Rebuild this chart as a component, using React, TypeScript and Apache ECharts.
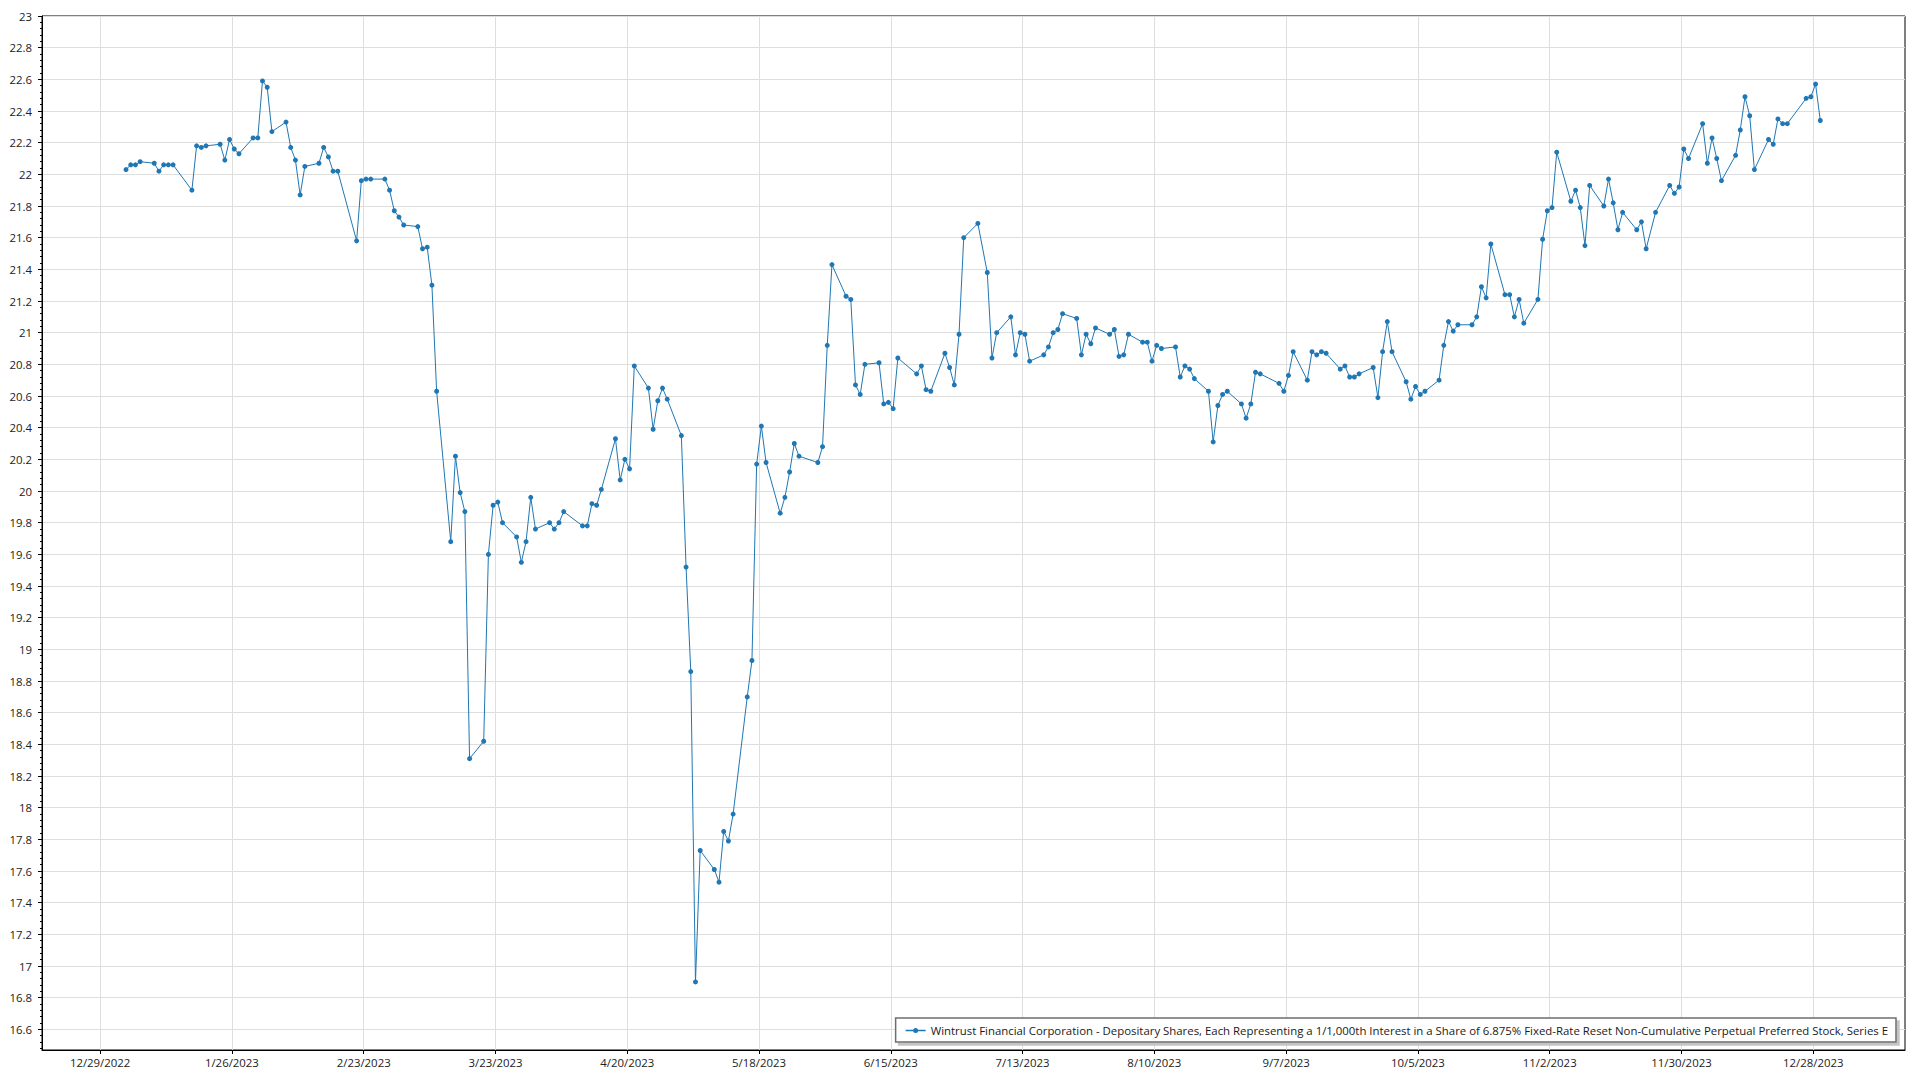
import React, { useEffect, useRef } from "react";
import * as echarts from "echarts";

const SERIES_NAME =
  "Wintrust Financial Corporation - Depositary Shares, Each Representing a 1/1,000th Interest in a Share of 6.875% Fixed-Rate Reset Non-Cumulative Perpetual Preferred Stock, Series E";

const tradeDates = [
  "2023-01-03","2023-01-04","2023-01-05","2023-01-06","2023-01-09","2023-01-10","2023-01-11","2023-01-12","2023-01-13",
  "2023-01-17","2023-01-18","2023-01-19","2023-01-20","2023-01-23","2023-01-24","2023-01-25","2023-01-26","2023-01-27",
  "2023-01-30","2023-01-31","2023-02-01","2023-02-02","2023-02-03","2023-02-06","2023-02-07","2023-02-08","2023-02-09",
  "2023-02-10","2023-02-13","2023-02-14","2023-02-15","2023-02-16","2023-02-17","2023-02-21","2023-02-22","2023-02-23",
  "2023-02-24","2023-02-27","2023-02-28","2023-03-01","2023-03-02","2023-03-03","2023-03-06","2023-03-07","2023-03-08",
  "2023-03-09","2023-03-10","2023-03-13","2023-03-14","2023-03-15","2023-03-16","2023-03-17","2023-03-20","2023-03-21",
  "2023-03-22","2023-03-23","2023-03-24","2023-03-27","2023-03-28","2023-03-29","2023-03-30","2023-03-31","2023-04-03",
  "2023-04-04","2023-04-05","2023-04-06","2023-04-10","2023-04-11","2023-04-12","2023-04-13","2023-04-14","2023-04-17",
  "2023-04-18","2023-04-19","2023-04-20","2023-04-21","2023-04-24","2023-04-25","2023-04-26","2023-04-27","2023-04-28",
  "2023-05-01","2023-05-02","2023-05-03","2023-05-04","2023-05-05","2023-05-08","2023-05-09","2023-05-10","2023-05-11",
  "2023-05-12","2023-05-15","2023-05-16","2023-05-17","2023-05-18","2023-05-19","2023-05-22","2023-05-23","2023-05-24",
  "2023-05-25","2023-05-26","2023-05-30","2023-05-31","2023-06-01","2023-06-02","2023-06-05","2023-06-06","2023-06-07",
  "2023-06-08","2023-06-09","2023-06-12","2023-06-13","2023-06-14","2023-06-15","2023-06-16","2023-06-20","2023-06-21",
  "2023-06-22","2023-06-23","2023-06-26","2023-06-27","2023-06-28","2023-06-29","2023-06-30","2023-07-03","2023-07-05",
  "2023-07-06","2023-07-07","2023-07-10","2023-07-11","2023-07-12","2023-07-13","2023-07-14","2023-07-17","2023-07-18",
  "2023-07-19","2023-07-20","2023-07-21","2023-07-24","2023-07-25","2023-07-26","2023-07-27","2023-07-28","2023-07-31",
  "2023-08-01","2023-08-02","2023-08-03","2023-08-04","2023-08-07","2023-08-08","2023-08-09","2023-08-10","2023-08-11",
  "2023-08-14","2023-08-15","2023-08-16","2023-08-17","2023-08-18","2023-08-21","2023-08-22","2023-08-23","2023-08-24",
  "2023-08-25","2023-08-28","2023-08-29","2023-08-30","2023-08-31","2023-09-01","2023-09-05","2023-09-06","2023-09-07",
  "2023-09-08","2023-09-11","2023-09-12","2023-09-13","2023-09-14","2023-09-15","2023-09-18","2023-09-19","2023-09-20",
  "2023-09-21","2023-09-22","2023-09-25","2023-09-26","2023-09-27","2023-09-28","2023-09-29","2023-10-02","2023-10-03",
  "2023-10-04","2023-10-05","2023-10-06","2023-10-09","2023-10-10","2023-10-11","2023-10-12","2023-10-13","2023-10-16",
  "2023-10-17","2023-10-18","2023-10-19","2023-10-20","2023-10-23","2023-10-24","2023-10-25","2023-10-26","2023-10-27",
  "2023-10-30","2023-10-31","2023-11-01","2023-11-02","2023-11-03","2023-11-06","2023-11-07","2023-11-08","2023-11-09",
  "2023-11-10","2023-11-13","2023-11-14","2023-11-15","2023-11-16","2023-11-17","2023-11-20","2023-11-21","2023-11-22",
  "2023-11-24","2023-11-27","2023-11-28","2023-11-29","2023-11-30","2023-12-01","2023-12-04","2023-12-05","2023-12-06",
  "2023-12-07","2023-12-08","2023-12-11","2023-12-12","2023-12-13","2023-12-14","2023-12-15","2023-12-18","2023-12-19",
  "2023-12-20","2023-12-21","2023-12-22","2023-12-26","2023-12-27","2023-12-28","2023-12-29",
];

const closePrices = [
  22.03, 22.06, 22.06, 22.08, 22.07, 22.02, 22.06, 22.06, 22.06,
  21.90, 22.18, 22.17, 22.18, 22.19, 22.09, 22.22, 22.16, 22.13,
  22.23, 22.23, 22.59, 22.55, 22.27, 22.33, 22.17, 22.09, 21.87,
  22.05, 22.07, 22.17, 22.11, 22.02, 22.02, 21.58, 21.96, 21.97,
  21.97, 21.97, 21.90, 21.77, 21.73, 21.68, 21.67, 21.53, 21.54,
  21.30, 20.63, 19.68, 20.22, 19.99, 19.87, 18.31, 18.42, 19.60,
  19.91, 19.93, 19.80, 19.71, 19.55, 19.68, 19.96, 19.76, 19.80,
  19.76, 19.80, 19.87, 19.78, 19.78, 19.92, 19.91, 20.01, 20.33,
  20.07, 20.20, 20.14, 20.79, 20.65, 20.39, 20.57, 20.65, 20.58,
  20.35, 19.52, 18.86, 16.90, 17.73, 17.61, 17.53, 17.85, 17.79,
  17.96, 18.70, 18.93, 20.17, 20.41, 20.18, 19.86, 19.96, 20.12,
  20.30, 20.22, 20.18, 20.28, 20.92, 21.43, 21.23, 21.21, 20.67,
  20.61, 20.80, 20.81, 20.55, 20.56, 20.52, 20.84, 20.74, 20.79,
  20.64, 20.63, 20.87, 20.78, 20.67, 20.99, 21.60, 21.69, 21.38,
  20.84, 21.00, 21.10, 20.86, 21.00, 20.99, 20.82, 20.86, 20.91,
  21.00, 21.02, 21.12, 21.09, 20.86, 20.99, 20.93, 21.03, 20.99,
  21.02, 20.85, 20.86, 20.99, 20.94, 20.94, 20.82, 20.92, 20.90,
  20.91, 20.72, 20.79, 20.77, 20.71, 20.63, 20.31, 20.54, 20.61,
  20.63, 20.55, 20.46, 20.55, 20.75, 20.74, 20.68, 20.63, 20.73,
  20.88, 20.70, 20.88, 20.86, 20.88, 20.87, 20.77, 20.79, 20.72,
  20.72, 20.74, 20.78, 20.59, 20.88, 21.07, 20.88, 20.69, 20.58,
  20.66, 20.61, 20.63, 20.70, 20.92, 21.07, 21.01, 21.05, 21.05,
  21.10, 21.29, 21.22, 21.56, 21.24, 21.24, 21.10, 21.21, 21.06,
  21.21, 21.59, 21.77, 21.79, 22.14, 21.83, 21.90, 21.79, 21.55,
  21.93, 21.80, 21.97, 21.82, 21.65, 21.76, 21.65, 21.70, 21.53,
  21.76, 21.93, 21.88, 21.92, 22.16, 22.10, 22.32, 22.07, 22.23,
  22.10, 21.96, 22.12, 22.28, 22.49, 22.37, 22.03, 22.22, 22.19,
  22.35, 22.32, 22.32, 22.48, 22.49, 22.57, 22.34,
];

const xTickDates = [
  "2022-12-29","2023-01-26","2023-02-23","2023-03-23","2023-04-20","2023-05-18","2023-06-15",
  "2023-07-13","2023-08-10","2023-09-07","2023-10-05","2023-11-02","2023-11-30","2023-12-28",
];

const yTickValues = [
  16.6, 16.8, 17, 17.2, 17.4, 17.6, 17.8, 18, 18.2, 18.4, 18.6, 18.8, 19, 19.2, 19.4, 19.6, 19.8,
  20, 20.2, 20.4, 20.6, 20.8, 21, 21.2, 21.4, 21.6, 21.8, 22, 22.2, 22.4, 22.6, 22.8, 23,
];

const Y_MIN = 16.47;
const Y_MAX = 23;
const DAY = 86400000;

function toMs(s: string): number {
  const [y, m, d] = s.split("-").map(Number);
  return Date.UTC(y, m - 1, d);
}

function fmtDate(v: number): string {
  const dt = new Date(v);
  return `${dt.getUTCMonth() + 1}/${dt.getUTCDate()}/${dt.getUTCFullYear()}`;
}

export default function App() {
  const ref = useRef<HTMLDivElement>(null);

  useEffect(() => {
    if (!ref.current) return;
    const chart = echarts.init(ref.current, null, { renderer: "svg" });

    const xTicks = xTickDates.map(toMs);
    const firstTick = xTicks[0];
    const lastTick = xTicks[xTicks.length - 1];
    // points sit at mid-day of each trading date
    const data = tradeDates.map((d, i) => [toMs(d) + DAY / 2, closePrices[i]]);

    const minorTicks: number[] = [];
    for (let k = Math.ceil(Y_MIN / 0.04); k * 0.04 <= Y_MAX + 1e-9; k++) {
      minorTicks.push(Math.round(k * 4) / 100);
    }

    const font = "'Segoe UI', 'Open Sans', 'Noto Sans', sans-serif";
    const fs = 11.4;

    chart.setOption({
      animation: false,
      backgroundColor: "#ffffff",
      textStyle: { fontFamily: font },
      grid: {
        left: 42,
        right: 15,
        top: 16,
        bottom: 30,
        show: true,
        borderColor: "#000000",
        borderWidth: 1,
        backgroundColor: "transparent",
      },
      legend: {
        show: true,
        right: 24,
        bottom: 38,
        orient: "horizontal",
        padding: [7, 8, 6, 10],
        itemWidth: 20,
        itemHeight: 5,
        backgroundColor: "#ffffff",
        borderColor: "#6e6e6e",
        borderWidth: 1.5,
        borderRadius: 0,
        shadowColor: "#c4c4c4",
        shadowBlur: 0,
        shadowOffsetX: 3,
        shadowOffsetY: 3,
        textStyle: { fontSize: fs, color: "#1a1a1a", fontFamily: font },
        data: [
          {
            name: SERIES_NAME,
            icon: "path://M0,1.75 L20,1.75 L20,3.25 L0,3.25 Z M12.5,2.5 A2.5,2.5 0 1 1 7.5,2.5 A2.5,2.5 0 1 1 12.5,2.5 Z",
            itemStyle: { color: "#1f77b4" },
          },
        ],
      },
      xAxis: {
        type: "value",
        min: firstTick - 12.35 * DAY,
        max: lastTick + 19.5 * DAY,
        axisLine: { show: true, lineStyle: { color: "#000000", width: 1 } },
        axisTick: {
          show: true,
          length: 4,
          customValues: xTicks,
          lineStyle: { color: "#000000" },
        },
        axisLabel: {
          customValues: xTicks,
          formatter: (v: number) => fmtDate(v),
          fontSize: fs,
          color: "#222222",
          margin: 7,
          fontFamily: font,
        },
        splitLine: { show: true, lineStyle: { color: "#dedede", width: 1 } },
      },
      yAxis: [
        {
          type: "value",
          min: Y_MIN,
          max: Y_MAX,
          axisLine: { show: true, lineStyle: { color: "#000000", width: 1 } },
          axisTick: {
            show: true,
            length: 4,
            customValues: yTickValues,
            lineStyle: { color: "#000000" },
          },
          axisLabel: {
            customValues: yTickValues,
            formatter: (v: number) => String(Math.round(v * 10) / 10),
            fontSize: fs,
            color: "#222222",
            margin: 10,
            fontFamily: font,
          },
          splitLine: { show: true, lineStyle: { color: "#dedede", width: 1 } },
        },
        {
          type: "value",
          position: "left",
          min: Y_MIN,
          max: Y_MAX,
          axisLine: { show: false },
          axisTick: {
            show: true,
            length: 2,
            customValues: minorTicks,
            lineStyle: { color: "#000000" },
          },
          axisLabel: { show: false },
          splitLine: { show: false },
        },
      ],
      series: [
        {
          name: SERIES_NAME,
          type: "line",
          yAxisIndex: 0,
          data,
          symbol: "circle",
          symbolSize: 5,
          showSymbol: true,
          lineStyle: { color: "#1f77b4", width: 1 },
          itemStyle: { color: "#1f77b4" },
          emphasis: { disabled: true },
        },
      ],
    });

    return () => {
      chart.dispose();
    };
  }, []);

  return (
    <div
      ref={ref}
      style={{ position: "fixed", left: 0, top: 0, width: 1920, height: 1080, background: "#ffffff" }}
    />
  );
}
